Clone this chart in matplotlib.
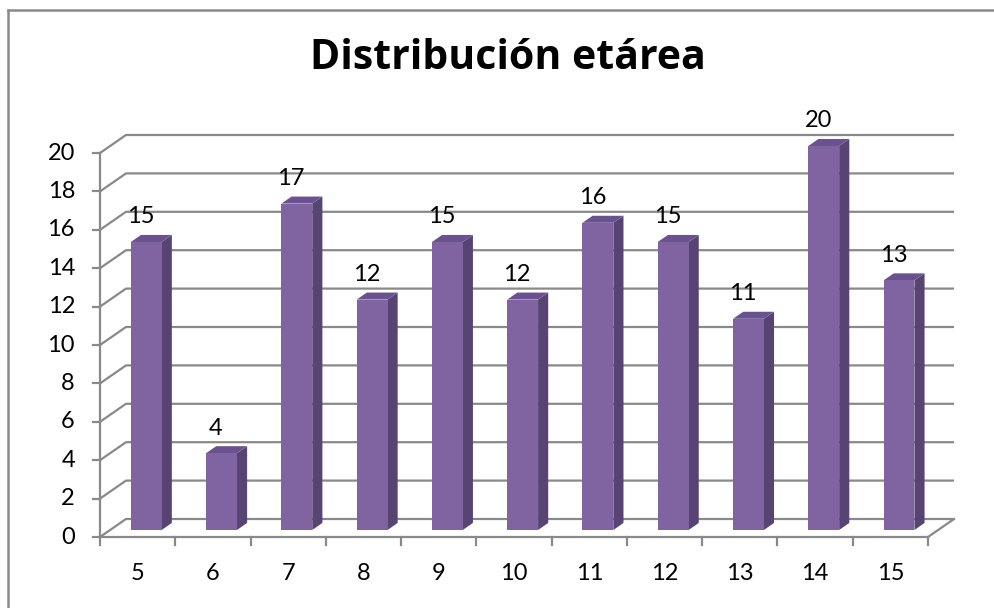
import matplotlib
matplotlib.use("Agg")
import matplotlib.pyplot as plt
from matplotlib.patches import Polygon
from matplotlib.lines import Line2D

plt.rcParams['font.family'] = ['Lato', 'DejaVu Sans']

# Age distribution data
ages = ["5", "6", "7", "8", "9", "10", "11", "12", "13", "14", "15"]
counts = [15, 4, 17, 12, 15, 12, 16, 15, 11, 20, 13]
y_ticks = list(range(0, 21, 2))

W, H = 995, 608
fig = plt.figure(figsize=(W / 100, H / 100), dpi=100)
ax = fig.add_axes([0, 0, 1, 1])
ax.axis("off")

# pixel layout of the plot area (front plane)
px_left, px_right = 100, 928
px_zero, px_top = 537, 153
n = len(ages)
sx = (px_right - px_left) / n          # px per category
sy = (px_zero - px_top) / 20           # px per unit
ax.set_xlim(-px_left / sx, (W - px_left) / sx)
ax.set_ylim(-(H - px_zero) / sy, px_zero / sy)

# oblique depth offset (front -> back wall)
DX = 26 / sx
DY = 18 / sy
grid_c = "#898989"
lw = 1.6
fs = 17

# back wall + left wall gridlines
for v in y_ticks:
    ax.plot([0, DX, n + DX], [v, v + DY, v + DY], color=grid_c, lw=lw,
            solid_capstyle="butt", zorder=1)
# floor right edge
ax.plot([n, n + DX], [0, DY], color=grid_c, lw=lw, zorder=1)
# value axis with ticks
ax.plot([0, 0], [0, 20], color=grid_c, lw=lw, zorder=2)
for v in y_ticks:
    ax.plot([-7 / sx, 0], [v, v], color=grid_c, lw=lw, zorder=2)
    ax.text(-25 / sx, v, str(v), ha="right", va="center", fontsize=fs,
            color="black")
# category axis with ticks
ax.plot([0, n], [0, 0], color=grid_c, lw=lw, zorder=2)
for i in range(n + 1):
    ax.plot([i, i], [0, -8 / sy], color=grid_c, lw=lw, zorder=2)
for i, lab in enumerate(ages):
    ax.text(i + 0.5, -36 / sy, lab, ha="center", va="center", fontsize=fs,
            color="black")

# 3D bars
bw = 0.41
f1, f2 = 0.39, 0.78
front_c, side_c, top_c = "#8064A2", "#574473", "#6A5290"
for i, v in enumerate(counts):
    x0 = i + 0.5 - bw / 2 + f1 * DX - 0.02
    x1 = x0 + bw
    y0 = f1 * DY
    ddx = (f2 - f1) * DX
    ddy = (f2 - f1) * DY
    front = [(x0, y0), (x1, y0), (x1, y0 + v), (x0, y0 + v)]
    side = [(x1, y0), (x1 + ddx, y0 + ddy), (x1 + ddx, y0 + ddy + v), (x1, y0 + v)]
    top = [(x0, y0 + v), (x1, y0 + v), (x1 + ddx, y0 + ddy + v), (x0 + ddx, y0 + ddy + v)]
    ax.add_patch(Polygon(side, closed=True, fc=side_c, ec="none", zorder=3))
    ax.add_patch(Polygon(top, closed=True, fc=top_c, ec="none", zorder=3))
    ax.add_patch(Polygon(front, closed=True, fc=front_c, ec="none", zorder=4))
    ax.text(i + 0.5 + 0.04, v + f2 * DY + 18 / sy, str(v), ha="center",
            va="center", fontsize=fs, color="black", zorder=5)

fig.text(508 / W, 1 - 69 / H, "Distribución etárea", ha="center", va="baseline",
         fontsize=29.5, fontweight="bold", color="black", family="Open Sans")

# chart frame
fig.add_artist(Line2D([8 / W, 8 / W], [0, 1 - 10 / H], color="#8a8a8a", lw=1.8,
                      transform=fig.transFigure))
fig.add_artist(Line2D([8 / W, 1], [1 - 10 / H, 1 - 10 / H], color="#8a8a8a", lw=1.8,
                      transform=fig.transFigure))

fig.savefig("out.png", dpi=100)
